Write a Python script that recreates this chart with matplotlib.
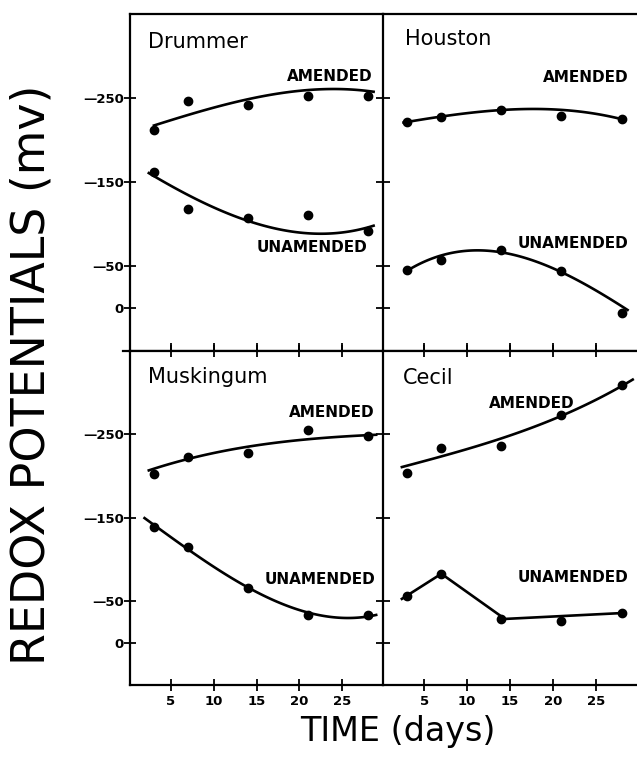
import numpy as np
import matplotlib
matplotlib.use('Agg')
import matplotlib.pyplot as plt
from matplotlib.lines import Line2D

# sampling days
days = [3, 7, 14, 21, 28]

drummer_amended = [-212, -247, -242, -253, -252]
drummer_unamended = [-162, -118, -107, -111, -92]
houston_amended = [-222, -228, -236, -229, -225]
houston_unamended = [-46, -58, -69, -45, 5]
muskingum_amended = [-202, -223, -227, -255, -248]
muskingum_unamended = [-139, -115, -66, -34, -34]
cecil_amended = [-203, -234, -236, -273, -309]
cecil_unamended = [-56, -83, -29, -27, -36]

# hand drawn trend lines (day, mv)
drummer_amended_tx = [3, 7, 14, 21, 25, 28.7]
drummer_amended_ty = [-217, -231, -248, -259, -262, -257]
drummer_unamended_tx = [2.4, 7, 14, 23, 28.7]
drummer_unamended_ty = [-162, -132, -107, -87, -99]
houston_amended_tx = [2.6, 7, 14, 18, 28.4]
houston_amended_ty = [-221, -228, -236, -237, -224]
houston_unamended_tx = [2.8, 7, 10, 14, 21, 28.7]
houston_unamended_ty = [-43, -64, -69, -65, -44, 2]
muskingum_amended_tx = [2.4, 7, 14, 21, 29]
muskingum_amended_ty = [-206, -222, -233, -245, -249]
muskingum_unamended_tx = [1.9, 7, 14, 21, 25.8, 29]
muskingum_unamended_ty = [-150, -111, -68, -36, -30, -34]
cecil_amended_tx = [2.4, 7, 14, 21, 29.3]
cecil_amended_ty = [-210, -225, -243, -273, -315]
# Cecil unamended is joined by straight segments
cecil_unamended_tx = [2.4, 7, 14.4, 28]
cecil_unamended_ty = [-53, -83, -29, -36]

ytick_values = [-250, -150, -50, 0]
ytick_labels = ['\u2014250', '\u2014150', '\u201450', '0']
xtick_values = [5, 10, 15, 20, 25]
xtick_labels = ['5', '10', '15', '20', '25']

soils = ['Drummer', 'Houston', 'Muskingum', 'Cecil']


def smooth(tx, ty, deg=3):
    # smooth curve through the points
    c = np.polyfit(tx, ty, deg)
    xs = np.linspace(min(tx), max(tx), 120)
    return xs, np.polyval(c, xs)


fig = plt.figure(figsize=(6.37, 7.57), dpi=100)

L, M, R = 130/637, 383/637, 1.0
T, Mid, B = 1 - 14/757, 1 - 350.5/757, 1 - 685/757

ax_tl = fig.add_axes([L, Mid, M - L, T - Mid])
ax_tr = fig.add_axes([M, Mid, R - M, T - Mid])
ax_bl = fig.add_axes([L, B, M - L, Mid - B])
ax_br = fig.add_axes([M, B, R - M, Mid - B])
axes = [ax_tl, ax_tr, ax_bl, ax_br]

lw = 1.9
ms = 6

panels = [
    (ax_tl, drummer_amended, drummer_unamended,
     (drummer_amended_tx, drummer_amended_ty), (drummer_unamended_tx, drummer_unamended_ty)),
    (ax_tr, houston_amended, houston_unamended,
     (houston_amended_tx, houston_amended_ty), (houston_unamended_tx, houston_unamended_ty)),
    (ax_bl, muskingum_amended, muskingum_unamended,
     (muskingum_amended_tx, muskingum_amended_ty), (muskingum_unamended_tx, muskingum_unamended_ty)),
    (ax_br, cecil_amended, cecil_unamended,
     (cecil_amended_tx, cecil_amended_ty), None),
]

for ax, am, un, am_t, un_t in panels:
    ax.plot(days, am, 'o', color='black', ms=ms)
    ax.plot(days, un, 'o', color='black', ms=ms)
    xs, ys = smooth(*am_t)
    ax.plot(xs, ys, color='black', lw=lw)
    if un_t is not None:
        xs, ys = smooth(*un_t)
        ax.plot(xs, ys, color='black', lw=lw)

ax_br.plot(cecil_unamended_tx, cecil_unamended_ty, color='black', lw=lw)

for ax in axes:
    ax.set_xlim(0.2, 29.8)
    ax.set_ylim(50, -350)
    ax.spines['right'].set_visible(False)
    for s in ['top', 'left', 'bottom']:
        ax.spines[s].set_linewidth(1.6)
    ax.set_xticks(xtick_values)
    ax.set_yticks(ytick_values)
    ax.tick_params(width=1.3, color='black')

# left column carries the y tick labels
for ax in [ax_tl, ax_bl]:
    ax.set_yticklabels(ytick_labels, fontsize=9.5, fontweight='bold')
    ax.tick_params(axis='y', direction='inout', length=9, pad=0)
for ax in [ax_tr, ax_br]:
    ax.set_yticklabels([])
    ax.tick_params(axis='y', direction='inout', length=10)

# top row: ticks pointing up from the middle line, no labels
for ax in [ax_tl, ax_tr]:
    ax.set_xticklabels([])
    ax.tick_params(axis='x', direction='in', length=6)
# bottom row: ticks on top (middle line) and bottom
for ax in [ax_bl, ax_br]:
    ax.set_xticklabels(xtick_labels, fontsize=9.5, fontweight='bold')
    ax.tick_params(axis='x', direction='inout', length=9, pad=3, top=True)

# soil names and curve labels
title_kw = dict(fontsize=15, va='center', ha='left')
lab_kw = dict(fontsize=11, fontweight='bold', va='center')
ax_tl.text(0.071, 0.917, soils[0], transform=ax_tl.transAxes, **title_kw)
ax_tl.text(0.960, 0.815, 'AMENDED', transform=ax_tl.transAxes, ha='right', **lab_kw)
ax_tl.text(0.937, 0.307, 'UNAMENDED', transform=ax_tl.transAxes, ha='right', **lab_kw)

ax_tr.text(0.087, 0.926, soils[1], transform=ax_tr.transAxes, **title_kw)
ax_tr.text(0.965, 0.8125, 'AMENDED', transform=ax_tr.transAxes, ha='right', **lab_kw)
ax_tr.text(0.965, 0.318, 'UNAMENDED', transform=ax_tr.transAxes, ha='right', **lab_kw)

ax_bl.text(0.071, 0.922, soils[2], transform=ax_bl.transAxes, **title_kw)
ax_bl.text(0.968, 0.815, 'AMENDED', transform=ax_bl.transAxes, ha='right', **lab_kw)
ax_bl.text(0.968, 0.316, 'UNAMENDED', transform=ax_bl.transAxes, ha='right', **lab_kw)

ax_br.text(0.079, 0.919, soils[3], transform=ax_br.transAxes, **title_kw)
ax_br.text(0.756, 0.842, 'AMENDED', transform=ax_br.transAxes, ha='right', **lab_kw)
ax_br.text(0.965, 0.322, 'UNAMENDED', transform=ax_br.transAxes, ha='right', **lab_kw)

# middle line sticks out a little to the left
fig.add_artist(Line2D([123/637, L], [Mid, Mid], color='black', lw=1.6))

fig.text(32/637, 1 - 375/757, 'REDOX POTENTIALS (mv)', rotation=90,
         ha='center', va='center', fontsize=33)
fig.text(398/637, 1 - 732/757, 'TIME (days)', ha='center', va='center', fontsize=24)

plt.savefig('out.png', dpi=100)
